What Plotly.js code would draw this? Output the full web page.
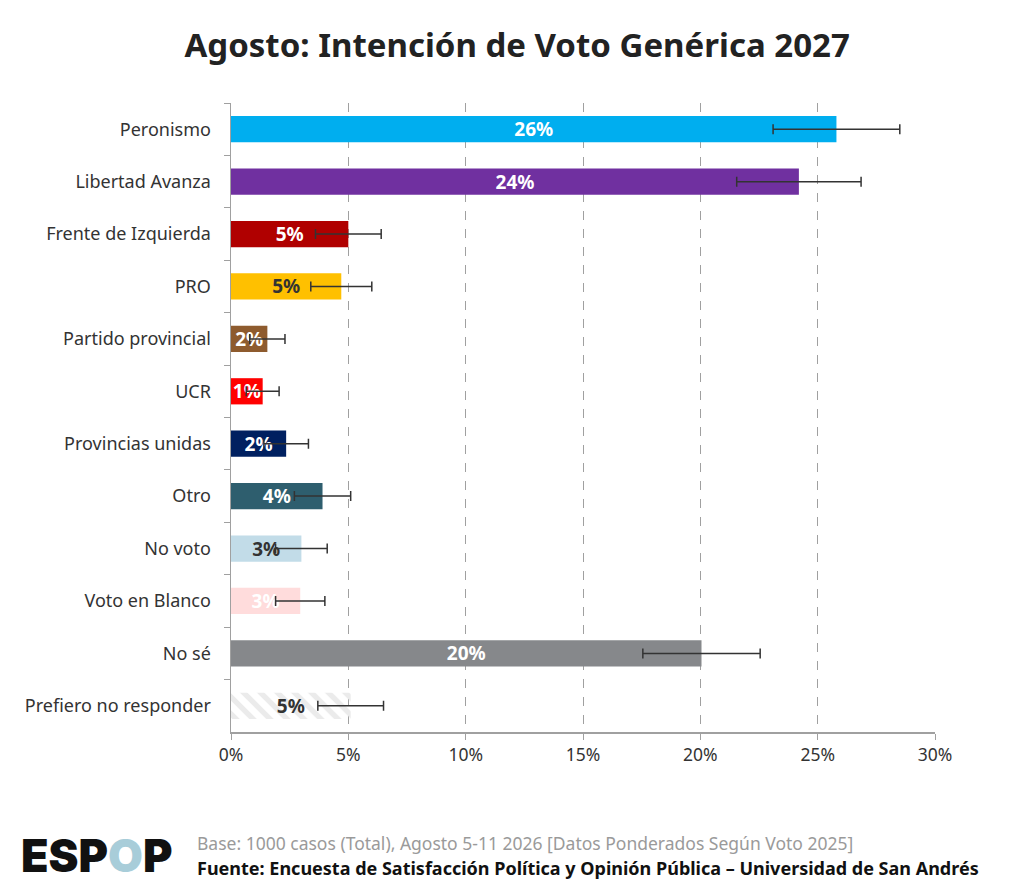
<!DOCTYPE html>
<html>
<head>
<meta charset="utf-8">
<script src="https://cdn.plot.ly/plotly-3.0.1.min.js"></script>
<style>html,body{margin:0;padding:0;background:#fff;}#chart{width:1024px;height:888px;}</style>
</head>
<body>
<div id="chart"></div>
<script>
const categories = ["Peronismo","Libertad Avanza","Frente de Izquierda","PRO","Partido provincial","UCR","Provincias unidas","Otro","No voto","Voto en Blanco","No sé","Prefiero no responder"];
const values = [25.8, 24.2, 5.0, 4.7, 1.55, 1.35, 2.35, 3.9, 3.0, 2.95, 20.05, 5.1];
const errors = [2.7, 2.65, 1.4, 1.3, 0.75, 0.7, 0.95, 1.2, 1.1, 1.05, 2.5, 1.4];
const labels = ["26%","24%","5%","5%","2%","1%","2%","4%","3%","3%","20%","5%"];
const barColors = ["#00AEEF","#7030A0","#B00000","#FFC000","#8E5B2E","#FF0000","#002060","#2E5E6E","#C2DCE8","#FFDCDC","#86888B","#EBEBEB"];
const labelColors = ["#FFFFFF","#FFFFFF","#FFFFFF","#333333","#FFFFFF","#FFFFFF","#FFFFFF","#FFFFFF","#333333","#FFFFFF","#FFFFFF","#333333"];
const patterns = ["","","","","","","","","","","","\\"];
const xTicks = [0,5,10,15,20,25,30];
const xTickText = ["0%","5%","10%","15%","20%","25%","30%"];

const FONT = "Noto Sans, Open Sans, sans-serif";

const trace = {
  type: "bar",
  orientation: "h",
  y: categories,
  x: values,
  width: 0.5,
  marker: {
    color: barColors,
    line: {width: 0},
    pattern: {shape: patterns, fgcolor: barColors, bgcolor: "#FFFFFF", size: 12, solidity: 0.45, fillmode: "replace"}
  },
  error_x: {type: "data", array: errors, visible: true, color: "#333333", thickness: 1.5, width: 5},
  text: labels,
  textposition: "inside",
  insidetextanchor: "middle",
  constraintext: "none",
  textangle: 0,
  textfont: {family: FONT, size: 19, color: labelColors, weight: 700},
  cliponaxis: false,
  hoverinfo: "none"
};

const layout = {
  width: 1024,
  height: 888,
  paper_bgcolor: "#FFFFFF",
  plot_bgcolor: "#FFFFFF",
  margin: {l: 231, r: 89, t: 103, b: 156},
  showlegend: false,
  font: {family: FONT, color: "#333333"},
  title: {
    text: "<b>Agosto: Intención de Voto Genérica 2027</b>",
    font: {family: FONT, size: 33, color: "#222222"},
    x: 0.505, xanchor: "center", y: 0.949, yanchor: "middle"
  },
  xaxis: {
    range: [0, 30],
    tickvals: xTicks,
    ticktext: xTickText,
    showgrid: true,
    gridcolor: "#A0A0A0",
    griddash: "dash",
    gridwidth: 1,
    zeroline: false,
    showline: true,
    linecolor: "#A0A0A0",
    linewidth: 1.5,
    ticks: "outside",
    ticklen: 6,
    tickcolor: "#A0A0A0",
    tickfont: {family: FONT, size: 17.5, color: "#333333"},
    fixedrange: true
  },
  yaxis: {
    type: "category",
    autorange: "reversed",
    showgrid: false,
    zeroline: false,
    showline: true,
    linecolor: "#A0A0A0",
    linewidth: 1.5,
    ticks: "outside",
    tickson: "boundaries",
    ticklen: 6,
    tickcolor: "#A0A0A0",
    ticklabelstandoff: 15,
    tickfont: {family: FONT, size: 18, color: "#333333"},
    fixedrange: true
  },
  annotations: [
    {
      xref: "paper", yref: "paper", x: -231/704 + 19/704, y: -123/629, xanchor: "left", yanchor: "middle",
      text: "ESP<span style='color:#A8CDD9'>O</span>P",
      showarrow: false,
      font: {family: "Inter, Lato, sans-serif", size: 45, color: "#111111", weight: 900}
    },
    {
      xref: "paper", yref: "paper", x: -35/704, y: -111/629, xanchor: "left", yanchor: "middle",
      text: "Base: 1000 casos (Total), Agosto 5-11 2026 [Datos Ponderados Según Voto 2025]",
      showarrow: false, borderpad: 0,
      font: {family: FONT, size: 17.5, color: "#9A9A9A"}
    },
    {
      xref: "paper", yref: "paper", x: -35/704, y: -136/629, xanchor: "left", yanchor: "middle",
      text: "<b>Fuente: Encuesta de Satisfacción Política y Opinión Pública – Universidad de San Andrés</b>",
      showarrow: false, borderpad: 0,
      font: {family: FONT, size: 18, color: "#111111"}
    }
  ]
};

Plotly.newPlot("chart", [trace], layout, {displayModeBar: false, staticPlot: true});
</script>
</body>
</html>
